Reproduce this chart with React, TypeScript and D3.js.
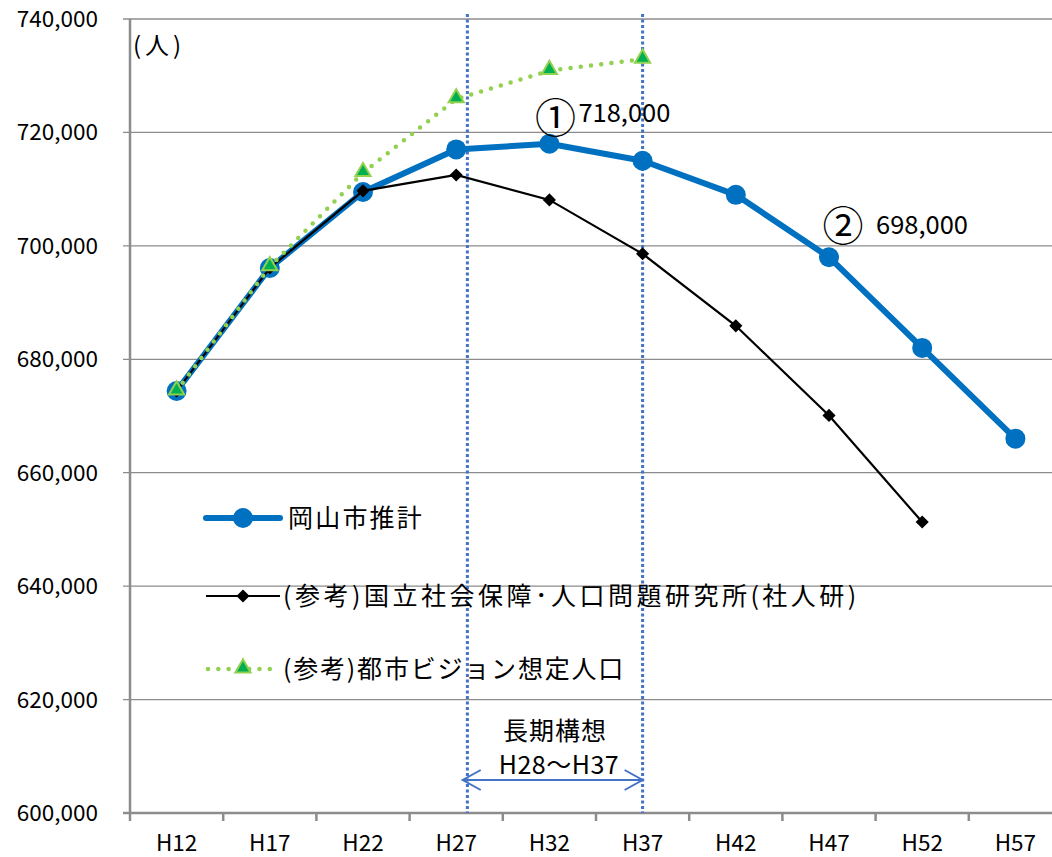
import React, { useRef, useEffect } from 'react';
import * as d3 from 'd3';

const categories = ['H12', 'H17', 'H22', 'H27', 'H32', 'H37', 'H42', 'H47', 'H52', 'H57'];
const years = [12, 17, 22, 27, 32, 37, 42, 47, 52, 57];
const okayamaValues = [674400, 696100, 709500, 717000, 718000, 715000, 709000, 698000, 682000, 666000];
const ipssValues = [674400, 696100, 709700, 712500, 708100, 698600, 685900, 670100, 651300];
const visionValues = [674400, 696300, 712900, 725900, 730900, 732900];
const yTicks = [600000, 620000, 640000, 660000, 680000, 700000, 720000, 740000];
const seriesNames = ['岡山市推計', '(参考)国立社会保障･人口問題研究所(社人研)', '(参考)都市ビジョン想定人口'];
const planStart = 27.6;
const planEnd = 37;

const FONT = '"Noto Sans CJK JP", "Noto Sans", sans-serif';
const BLUE = '#0070C0';
const GREEN_LINE = '#92D050';
const GREEN_FILL = '#00B050';
const DOT_BLUE = '#4472C4';

const App: React.FC = () => {
  const ref = useRef<SVGSVGElement>(null);

  useEffect(() => {
    const svg = d3.select(ref.current);
    svg.selectAll('*').remove();
    const width = 1052;
    const height = 857;
    const margin = { top: 19, right: -10, bottom: 44, left: 130 };

    svg.attr('width', width).attr('height', height);

    const x = d3.scaleBand()
      .domain(categories)
      .range([margin.left, width - margin.right])
      .padding(0);
    const cx = (c: string) => x(c)! + x.bandwidth() / 2;
    const yearX = d3.scaleLinear()
      .domain([years[0], years[years.length - 1]])
      .range([cx(categories[0]), cx(categories[categories.length - 1])]);

    const y = d3.scaleLinear()
      .domain([600000, 740000])
      .range([height - margin.bottom, margin.top]);

    // gridlines
    svg.append('g')
      .selectAll('line')
      .data(yTicks.slice(1))
      .join('line')
      .attr('x1', margin.left - 7)
      .attr('x2', width)
      .attr('y1', d => y(d))
      .attr('y2', d => y(d))
      .attr('stroke', '#8c8c8c')
      .attr('stroke-width', 1.3);

    // y labels
    svg.append('g')
      .selectAll('text')
      .data(yTicks)
      .join('text')
      .attr('x', 98)
      .attr('y', d => y(d) + 8)
      .attr('text-anchor', 'end')
      .attr('font-family', FONT)
      .attr('font-size', 22.5)
      .attr('fill', '#000')
      .text(d => d3.format(',')(d));

    svg.append('line')
      .attr('x1', margin.left - 7).attr('x2', margin.left)
      .attr('y1', y(600000)).attr('y2', y(600000))
      .attr('stroke', '#8c8c8c').attr('stroke-width', 2.5);

    // x axis ticks
    const edges = categories.map(c => x(c)!);
    svg.append('g')
      .selectAll('line')
      .data(edges)
      .join('line')
      .attr('x1', d => d).attr('x2', d => d)
      .attr('y1', y(600000)).attr('y2', y(600000) + 8)
      .attr('stroke', '#8c8c8c').attr('stroke-width', 2.5);

    svg.append('g')
      .selectAll('text')
      .data(categories)
      .join('text')
      .attr('x', d => cx(d))
      .attr('y', y(600000) + 38)
      .attr('text-anchor', 'middle')
      .attr('font-family', FONT)
      .attr('font-size', 22.5)
      .attr('fill', '#000')
      .text(d => d);

    // axes lines
    svg.append('line')
      .attr('x1', margin.left).attr('x2', width)
      .attr('y1', y(600000)).attr('y2', y(600000))
      .attr('stroke', '#8c8c8c').attr('stroke-width', 2.5);
    svg.append('line')
      .attr('x1', margin.left).attr('x2', margin.left)
      .attr('y1', y(740000)).attr('y2', y(600000))
      .attr('stroke', '#8c8c8c').attr('stroke-width', 2.5);

    svg.append('text')
      .attr('x', margin.left + 3)
      .attr('y', 54)
      .attr('font-family', FONT)
      .attr('font-size', 24)
      .attr('letter-spacing', 4)
      .text('(人)');

    // plan period dotted lines
    svg.append('g')
      .selectAll('line')
      .data([planStart, planEnd])
      .join('line')
      .attr('x1', d => yearX(d)).attr('x2', d => yearX(d))
      .attr('y1', 14).attr('y2', y(600000))
      .attr('stroke', DOT_BLUE)
      .attr('stroke-width', 3)
      .attr('stroke-dasharray', '3 2.5');

    // arrow
    const ay = y(600000) - 33;
    const ax1 = yearX(planStart - 0.25);
    const ax2 = yearX(planEnd);
    const arrow = svg.append('g').attr('stroke', DOT_BLUE).attr('stroke-width', 2).attr('fill', 'none');
    arrow.append('line').attr('x1', ax1).attr('x2', ax2).attr('y1', ay).attr('y2', ay);
    arrow.append('path').attr('d', `M${ax1 + 18},${ay - 10}L${ax1},${ay}L${ax1 + 18},${ay + 10}`);
    arrow.append('path').attr('d', `M${ax2 - 18},${ay - 10}L${ax2},${ay}L${ax2 - 18},${ay + 10}`);

    const mid = (yearX(planStart) + yearX(planEnd)) / 2;
    svg.append('text')
      .attr('x', mid).attr('y', ay - 40)
      .attr('text-anchor', 'middle')
      .attr('font-family', FONT).attr('font-size', 25)
      .attr('letter-spacing', 1)
      .text('長期構想');
    svg.append('text')
      .attr('x', mid + 4).attr('y', ay - 6)
      .attr('text-anchor', 'middle')
      .attr('font-family', FONT).attr('font-size', 25)
      .attr('letter-spacing', 0.5)
      .text('H28～H37');

    // series lines
    const line = d3.line<number>()
      .x((d, i) => cx(categories[i]))
      .y(d => y(d));

    svg.append('path')
      .datum(okayamaValues)
      .attr('fill', 'none')
      .attr('stroke', BLUE)
      .attr('stroke-width', 6)
      .attr('stroke-linejoin', 'round')
      .attr('d', line);
    svg.append('g')
      .selectAll('circle')
      .data(okayamaValues)
      .join('circle')
      .attr('cx', (d, i) => cx(categories[i]))
      .attr('cy', d => y(d))
      .attr('r', 10)
      .attr('fill', BLUE);

    svg.append('path')
      .datum(ipssValues)
      .attr('fill', 'none')
      .attr('stroke', '#000')
      .attr('stroke-width', 2.2)
      .attr('d', line);
    const diamond = d3.symbol().type(d3.symbolDiamond2).size(110);
    svg.append('g')
      .selectAll('path')
      .data(ipssValues)
      .join('path')
      .attr('transform', (d, i) => `translate(${cx(categories[i])},${y(d)})`)
      .attr('d', diamond)
      .attr('fill', '#000');

    svg.append('path')
      .datum(visionValues)
      .attr('fill', 'none')
      .attr('stroke', GREEN_LINE)
      .attr('stroke-width', 4.5)
      .attr('stroke-linecap', 'round')
      .attr('stroke-dasharray', '0 10.3')
      .attr('d', line);
    const tri = d3.symbol().type(d3.symbolTriangle).size(100);
    svg.append('g')
      .selectAll('path')
      .data(visionValues)
      .join('path')
      .attr('transform', (d, i) => `translate(${cx(categories[i])},${y(d) - 1})`)
      .attr('d', tri)
      .attr('fill', GREEN_FILL)
      .attr('stroke', GREEN_LINE)
      .attr('stroke-width', 2);

    // callouts
    const callouts = [
      { mark: '①', idx: 4, dx: 6, dy: -11, tx: 29, ty: -22 },
      { mark: '②', idx: 7, dx: 14, dy: -16, tx: 47, ty: -23 },
    ];
    callouts.forEach(c => {
      const px = cx(categories[c.idx]);
      const py = y(okayamaValues[c.idx]);
      svg.append('text')
        .attr('x', px + c.dx)
        .attr('y', py + c.dy)
        .attr('text-anchor', 'middle')
        .attr('font-family', FONT).attr('font-size', 41)
        .text(c.mark);
      svg.append('text')
        .attr('x', px + c.tx)
        .attr('y', py + c.ty)
        .attr('font-family', FONT).attr('font-size', 25.5)
        .text(d3.format(',')(Math.round(okayamaValues[c.idx] / 1000) * 1000));
    });

    // legend
    const legendY = [518, 596, 669];
    const lx1 = 206;
    const lx2 = 280;
    const lmx = 243;
    const lg = svg.append('g');
    lg.append('line').attr('x1', lx1).attr('x2', lx2).attr('y1', legendY[0]).attr('y2', legendY[0])
      .attr('stroke', BLUE).attr('stroke-width', 6).attr('stroke-linecap', 'round');
    lg.append('circle').attr('cx', lmx).attr('cy', legendY[0]).attr('r', 10).attr('fill', BLUE);
    lg.append('line').attr('x1', lx1).attr('x2', lx2).attr('y1', legendY[1]).attr('y2', legendY[1])
      .attr('stroke', '#000').attr('stroke-width', 2.2);
    lg.append('path').attr('transform', `translate(${lmx},${legendY[1]})`).attr('d', diamond).attr('fill', '#000');
    lg.append('line').attr('x1', lx1 + 2).attr('x2', lx2 - 4).attr('y1', legendY[2]).attr('y2', legendY[2])
      .attr('stroke', GREEN_LINE).attr('stroke-width', 4.5).attr('stroke-linecap', 'round')
      .attr('stroke-dasharray', '0 10.3');
    lg.append('path').attr('transform', `translate(${lmx},${legendY[2] - 1})`).attr('d', tri)
      .attr('fill', GREEN_FILL).attr('stroke', GREEN_LINE).attr('stroke-width', 2);

    const legendSpacing = [2.2, 3.5, 1.8];
    lg.selectAll('text')
      .data(seriesNames)
      .join('text')
      .attr('x', (d, i) => (i === 0 ? 288 : 283))
      .attr('y', (d, i) => legendY[i] + 9)
      .attr('font-family', FONT)
      .attr('font-size', 25)
      .attr('letter-spacing', (d, i) => legendSpacing[i])
      .text(d => d);
  }, []);

  return <svg ref={ref} style={{ position: 'absolute', left: 0, top: 0, background: '#fff' }}></svg>;
};

export default App;
